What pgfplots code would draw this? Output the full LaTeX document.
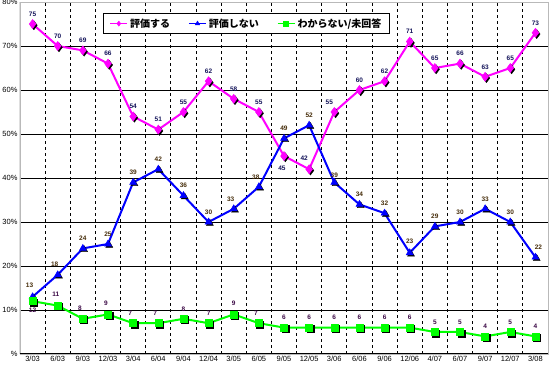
\documentclass[border=0pt]{standalone}
\usepackage{fontspec}
\setmainfont{Liberation Sans}
\newfontfamily\jp{Noto Sans CJK JP}
\usepackage{pgfplots}
\usepackage{pgfplotstable}
\pgfplotsset{compat=1.18}
\definecolor{cMag}{RGB}{255,0,255}
\definecolor{cBlue}{RGB}{0,0,255}
\definecolor{cGreen}{RGB}{0,255,0}
\definecolor{lMag}{RGB}{20,20,90}
\definecolor{lBlue}{RGB}{70,45,10}
\definecolor{lGreen}{RGB}{60,10,70}

\pgfplotstableread{
x y dy dx
0 75 10 0
1 70 10 0
2 69 10 0
3 66 10 0
4 54 10 0
5 51 10 0
6 55 10 0
7 62 10 0
8 58 10 0
9 55 10 0
10 45 -12 -2
11 42 11 -5
12 55 10 -5
13 60 10 0
14 62 10 0
15 71 10 0
16 65 10 0
17 66 10 0
18 63 10 0
19 65 10 0
20 73 10 0
}\tA
\pgfplotstableread{
x y dy dx
0 13 12 -3
1 18 11 -3
2 24 10 0
3 25 10 0
4 39 10 0
5 42 10 0
6 36 10 0
7 30 10 0
8 33 10 -3
9 38 10 -3
10 49 10 0
11 52 10 0
12 39 7 0
13 34 10 0
14 32 10 0
15 23 12 0
16 29 10 0
17 30 10 0
18 33 10 0
19 30 10 0
20 22 10 3
}\tB
\pgfplotstableread{
x y dy dx
0 12 -9 0
1 11 11 -2
2 8 11 -3
3 9 11 -2
4 7 10 -3
5 7 10 -3
6 8 10 0
7 7 10 0
8 9 11 0
9 7 10 -3
10 6 10 0
11 6 10 0
12 6 10 0
13 6 10 0
14 6 10 0
15 6 10 0
16 5 10 0
17 5 10 0
18 4 10 0
19 5 10 0
20 4 10 0
}\tC

\begin{document}
\begin{tikzpicture}
\useasboundingbox (0,0) rectangle (550pt,370pt);
\begin{axis}[
  at={(20pt,16pt)}, anchor=south west,
  scale only axis, width=528pt, height=352pt,
  xmin=-0.5, xmax=20.5, ymin=0, ymax=80,
  xtick={0,...,20},
  xticklabels={3/03,6/03,9/03,12/03,3/04,6/04,9/04,12/04,3/05,6/05,9/05,12/05,3/06,6/06,9/06,12/06,4/07,6/07,9/07,12/07,3/08},
  minor xtick={0.5,1.5,...,19.5},
  xminorgrids,
  minor grid style={black, line width=0.8pt, dash pattern=on 3pt off 3pt},
  ytick={0,10,...,80},
  yticklabels={\%,10\%,20\%,30\%,40\%,50\%,60\%,70\%,80\%},
  ymajorgrids,
  major grid style={black, line width=0.8pt},
  major tick length=0pt, minor tick length=0pt,
  tick label style={font=\fontsize{7.5}{9}\selectfont},
  xticklabel style={yshift=1pt},
  yticklabel style={xshift=1pt},
  axis line style={gray!55, line width=0.8pt},
  /pgf/number format/assume math mode=true,
  legend style={at={(0.157,0.969)}, anchor=north west, draw=black, line width=1.2pt,
    font=\jp\bfseries\fontsize{10}{12}\selectfont, inner xsep=6pt, inner ysep=3pt,
    /tikz/every even column/.append style={column sep=16pt}},
  legend columns=3,
  legend image post style={mark size=2.5pt, line width=1.6pt},
  nodes near coords,
  visualization depends on={\thisrow{dy}\as\mydy},
  visualization depends on={\thisrow{dx}\as\mydx},
  every node near coord/.append style={anchor=center, yshift=\mydy pt, xshift=\mydx pt,
    font=\bfseries\fontsize{6.5}{7}\selectfont},
]
% shadows
\addplot[forget plot, only marks, black, mark=square*, mark size=3.5pt, nodes near coords={},
  mark options={xshift=1.3pt, yshift=-1.3pt}] table[x=x,y=y] {\tC};
\addplot[forget plot, only marks, black, mark=triangle*, mark size=4pt, nodes near coords={},
  mark options={xshift=1.3pt, yshift=-1.3pt}] table[x=x,y=y] {\tB};
\addplot[forget plot, only marks, black, mark=diamond*, mark size=4.5pt, nodes near coords={},
  mark options={xshift=1.3pt, yshift=-1.3pt}] table[x=x,y=y] {\tA};
% series
\addplot[cMag, line width=2pt, mark=diamond*, mark size=4.5pt, mark options={line width=0.5pt},
  every node near coord/.append style={text=lMag}] table[x=x,y=y] {\tA};
\addlegendentry{評価する}
\addplot[cBlue, line width=2pt, mark=triangle*, mark size=4pt, mark options={line width=0.5pt},
  every node near coord/.append style={text=lBlue}] table[x=x,y=y] {\tB};
\addlegendentry{評価しない}
\addplot[cGreen, line width=2pt, mark=square*, mark size=3.5pt, mark options={line width=0.5pt},
  every node near coord/.append style={text=lGreen}] table[x=x,y=y] {\tC};
\addlegendentry{わからない/未回答}
\draw[black, line width=1pt] (rel axis cs:0,1) -- (rel axis cs:0,0) -- (rel axis cs:1,0);
\end{axis}
\end{tikzpicture}
\end{document}
